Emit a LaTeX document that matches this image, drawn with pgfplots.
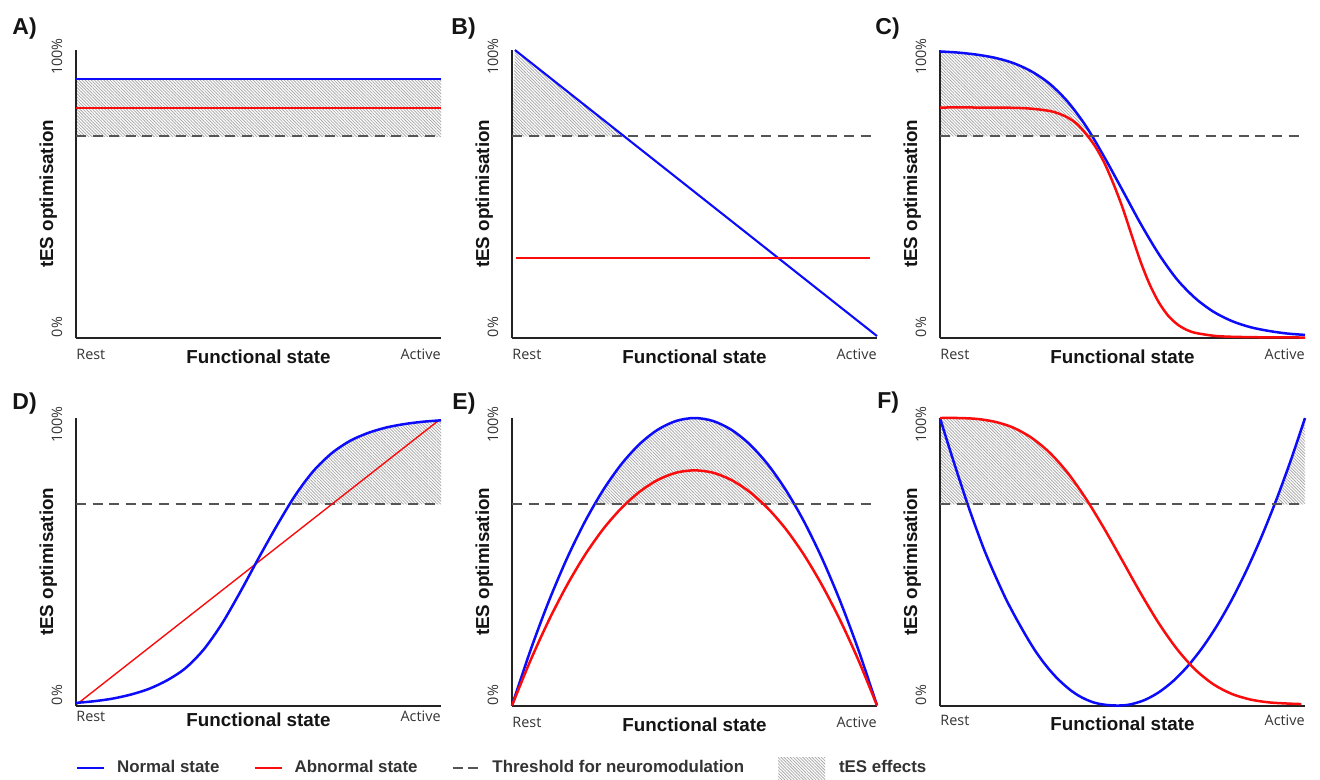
\documentclass[border=0pt]{standalone}
\usepackage{pgfplots}
\pgfplotsset{compat=1.18}
\usepgfplotslibrary{fillbetween}
\usetikzlibrary{patterns.meta}
\usepackage{fontspec}
\setmainfont{Liberation Sans}
\newfontfamily\tickfont{Open Sans}
\definecolor{nblue}{RGB}{12,12,250}
\definecolor{ared}{RGB}{250,12,12}
\definecolor{thrgray}{RGB}{85,85,85}
\definecolor{hatchgray}{RGB}{170,170,170}
\definecolor{axisdark}{RGB}{35,35,35}
\tikzset{
  hatch/.style={draw=none, pattern={Lines[angle=-45,distance=1.1pt,line width=0.4pt]}, pattern color=hatchgray},
  ticktext/.style={font=\tickfont\fontsize{7.2}{8}\selectfont, text=black!80, inner sep=0pt},
  labtext/.style={font=\fontsize{9.4}{11}\selectfont\bfseries, text=black!92, inner sep=0pt},
  panlab/.style={font=\fontsize{11.5}{13}\selectfont\bfseries, text=black!92, inner sep=0pt, anchor=base west},
}
\pgfplotsset{
  thr/.style={on layer=axis foreground, thrgray, line width=1pt, dash pattern=on 5pt off 3.3pt},
  nline/.style={on layer=axis foreground, nblue, line width=1.25pt},
  aline/.style={on layer=axis foreground, ared, line width=1.25pt},
  panel/.style={scale only axis, width=182.5pt, height=143.75pt,
    xmin=0, xmax=1, ymin=0, ymax=1,
    axis lines=left, axis line style={-, line width=1pt, axisdark},
    xtick=\empty, ytick=\empty, clip=false, set layers, anchor=south west},
}
\newcommand{\decor}[2]{%
  \node[ticktext, anchor=base west] at ([yshift=-#1]rel axis cs:0,0) {Rest};
  \node[ticktext, anchor=base east] at ([yshift=-#1]rel axis cs:1,0) {Active};
  \node[labtext, anchor=base] at ([yshift=-#2]rel axis cs:0.5,0) {Functional state};
  \node[labtext, rotate=90, anchor=base] at ([xshift=-11.5pt]rel axis cs:0,0.5) {tES optimisation};
  \node[ticktext, rotate=90, anchor=base] at ([xshift=-7pt,yshift=-3.25pt]rel axis cs:0,1) {100\%};
  \node[ticktext, rotate=90, anchor=base west] at ([xshift=-7pt]rel axis cs:0,0) {0\%};
}
\begin{document}
\begin{tikzpicture}

% ---------------- A ----------------
\begin{axis}[panel, at={(38pt,-168.75pt)}]
\addplot[hatch, on layer=axis background] coordinates {(0,0.7) (0,0.9) (1,0.9) (1,0.7)} -- cycle;
\addplot[ared, line width=1pt, on layer=axis foreground] coordinates {(0,0.8) (1,0.8)};
\addplot[nline, line width=0.9pt] coordinates {(0,0.9) (1,0.9)};
\addplot[thr] coordinates {(0,0.7) (1,0.7)};
\decor{10.75pt}{13pt}
\end{axis}

% ---------------- B ----------------
\begin{axis}[panel, at={(256pt,-168.75pt)}]
\addplot[name path=nB, nline, line width=1.05pt] coordinates {(0.008,1.0) (1.0,0.005)};
\addplot[name path=tB, thr] coordinates {(0,0.7) (1,0.7)};
\addplot[aline, line width=1.05pt] coordinates {(0.012,0.276) (0.98,0.276)};
\addplot[hatch] fill between[of=nB and tB, soft clip={domain=0:0.307}, on layer=axis background];
\decor{10.75pt}{13pt}
\end{axis}

% ---------------- C ----------------
\begin{axis}[panel, at={(470pt,-168.75pt)}]
\addplot[name path=nC, nline, smooth] coordinates {
(0.00,0.995) (0.05,0.991) (0.10,0.984) (0.15,0.973) (0.20,0.955) (0.25,0.926)
(0.30,0.883) (0.35,0.82) (0.40,0.735) (0.45,0.628) (0.50,0.512) (0.55,0.395)
(0.60,0.289) (0.65,0.201) (0.70,0.136) (0.75,0.089) (0.80,0.057) (0.85,0.036)
(0.90,0.023) (0.95,0.014) (1.00,0.009)};
\addplot[name path=tC, thr] coordinates {(0,0.7) (1,0.7)};
\addplot[aline, smooth] coordinates {
(0.00,0.800) (0.10,0.800) (0.20,0.799) (0.25,0.796) (0.30,0.788) (0.325,0.779)
(0.35,0.765) (0.375,0.743) (0.40,0.708) (0.425,0.665) (0.45,0.608) (0.475,0.535)
(0.50,0.452) (0.525,0.356) (0.55,0.262) (0.575,0.183) (0.60,0.121) (0.625,0.076)
(0.65,0.046) (0.675,0.027) (0.70,0.016) (0.75,0.006) (0.80,0.0025) (0.90,0.0005) (1.00,0.0)};
\addplot[hatch] fill between[of=nC and tC, soft clip={domain=0:0.416}, on layer=axis background];
\decor{10.75pt}{13pt}
\end{axis}

% ---------------- D ----------------
\begin{axis}[panel, at={(38pt,-352.75pt)},
  legend style={at={(0,-0.2174)}, anchor=west, draw=none, fill=none,
    inner sep=0pt, outer sep=0pt, legend columns=4,
    nodes={inner sep=0pt, font=\fontsize{8.45}{10}\selectfont\bfseries, text=black!80},
    /tikz/every odd column/.append style={column sep=5.75pt},
    /tikz/every even column/.append style={column sep=17pt}},
  legend cell align=left]
\addplot[name path=tD, thr, forget plot] coordinates {(0,0.7) (1,0.7)};
\addplot[aline, line width=0.7pt, forget plot] coordinates {(0.003,0.005) (0.995,0.993)};
\addplot[name path=nD, nline, smooth, forget plot] coordinates {
(0.00,0.009) (0.05,0.015) (0.10,0.024) (0.15,0.038) (0.20,0.058) (0.25,0.088)
(0.30,0.13) (0.35,0.195) (0.40,0.285) (0.45,0.395) (0.50,0.512) (0.55,0.625)
(0.60,0.73) (0.65,0.815) (0.70,0.877) (0.75,0.92) (0.80,0.948) (0.85,0.967)
(0.90,0.979) (0.95,0.987) (1.00,0.992)};
\addplot[hatch, forget plot] fill between[of=nD and tD, soft clip={domain=0.586:1}, on layer=axis background];
\addlegendimage{legend image code/.code={\draw[nblue, line width=1.3pt] (0pt,0pt) -- (13.5pt,0pt);}}
\addlegendentry{Normal state}
\addlegendimage{legend image code/.code={\draw[ared, line width=1.3pt] (0pt,0pt) -- (13.5pt,0pt);}}
\addlegendentry{Abnormal state}
\addlegendimage{legend image code/.code={\draw[thrgray, line width=1pt, dash pattern=on 5pt off 2.5pt] (0pt,0pt) -- (12.5pt,0pt); \path (14pt,0pt);}}
\addlegendentry{Threshold for neuromodulation}
\addlegendimage{legend image code/.code={\path[draw=none, pattern={Lines[angle=-45,distance=1.1pt,line width=0.4pt]}, pattern color=hatchgray] (0pt,-5.5pt) rectangle (23.5pt,5.5pt); \path (24.5pt,0pt);}}
\addlegendentry{tES effects}
\decor{8pt}{10.5pt}
\end{axis}

% ---------------- E ----------------
\begin{axis}[panel, at={(256pt,-352.75pt)}]
\addplot[name path=nE, nline, smooth] coordinates {
(0,0) (0.05,0.19) (0.10,0.36) (0.15,0.51) (0.20,0.64) (0.25,0.75) (0.30,0.84)
(0.35,0.91) (0.40,0.96) (0.45,0.99) (0.50,1.00) (0.55,0.99) (0.60,0.96)
(0.65,0.91) (0.70,0.84) (0.75,0.75) (0.80,0.64) (0.85,0.51) (0.90,0.36)
(0.95,0.19) (1.00,0)};
\addplot[name path=tE, thr] coordinates {(0,0.7) (1,0.7)};
\addplot[aline, smooth] coordinates {
(0,0) (0.05,0.155) (0.10,0.294) (0.15,0.417) (0.20,0.524) (0.25,0.614) (0.30,0.687)
(0.35,0.744) (0.40,0.785) (0.45,0.810) (0.50,0.818) (0.55,0.810) (0.60,0.785)
(0.65,0.744) (0.70,0.687) (0.75,0.614) (0.80,0.524) (0.85,0.417) (0.90,0.294)
(0.95,0.155) (1.00,0)};
\addplot[hatch] fill between[of=nE and tE, soft clip={domain=0.2261:0.7739}, on layer=axis background];
\decor{10.75pt}{13pt}
\end{axis}

% ---------------- F ----------------
\begin{axis}[panel, at={(470pt,-352.75pt)}]
\addplot[name path=nF, nline, smooth] coordinates {
(0.00,1.000) (0.02,0.918) (0.04,0.838) (0.06,0.760) (0.08,0.684) (0.10,0.613)
(0.12,0.545) (0.14,0.484) (0.16,0.427) (0.18,0.372) (0.20,0.323) (0.22,0.277)
(0.24,0.233) (0.26,0.192) (0.28,0.156) (0.30,0.124) (0.32,0.096) (0.34,0.072)
(0.36,0.051) (0.38,0.034) (0.40,0.021) (0.42,0.011) (0.44,0.005) (0.46,0.0015)
(0.49,0.0) (0.52,0.0035) (0.56,0.0188) (0.60,0.0465) (0.64,0.0865) (0.68,0.1388)
(0.72,0.2034) (0.76,0.2803) (0.80,0.3695) (0.84,0.471) (0.88,0.5848)
(0.92,0.7109) (0.96,0.8493) (1.00,1.000)};
\addplot[name path=tF, thr] coordinates {(0,0.7) (1,0.7)};
\addplot[name path=aF, aline, smooth] coordinates {
(0.00,1.000) (0.05,1.000) (0.10,0.997) (0.15,0.987) (0.20,0.967) (0.25,0.932)
(0.30,0.880) (0.35,0.809) (0.40,0.719) (0.45,0.615) (0.50,0.503) (0.55,0.390)
(0.60,0.285) (0.65,0.195) (0.70,0.124) (0.75,0.073) (0.80,0.040) (0.85,0.021)
(0.90,0.011) (0.95,0.007) (0.99,0.005)};
\addplot[hatch] fill between[of=aF and tF, soft clip={domain=0:0.409}, on layer=axis background];
\addplot[hatch] fill between[of=nF and tF, soft clip={domain=0.9167:1}, on layer=axis background];
\decor{10pt}{12.5pt}
\end{axis}

% panel letters
\node[panlab] at (6pt,-17pt) {A)};
\node[panlab] at (225.5pt,-17pt) {B)};
\node[panlab] at (437.5pt,-17pt) {C)};
\node[panlab] at (6pt,-204.5pt) {D)};
\node[panlab] at (226pt,-204.5pt) {E)};
\node[panlab] at (438.5pt,-204pt) {F)};
\path (0,0) rectangle (660pt,-389.5pt);
\end{tikzpicture}
\end{document}
